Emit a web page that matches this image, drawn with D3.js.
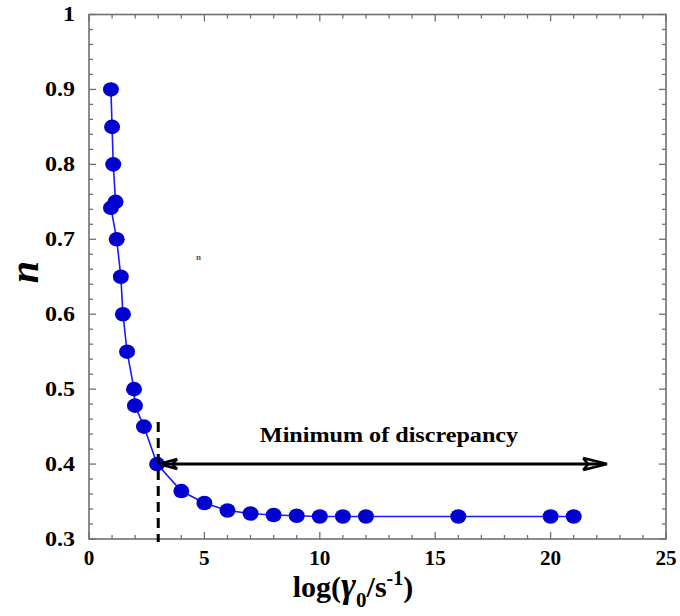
<!DOCTYPE html>
<html><head><meta charset="utf-8">
<script src="https://cdn.jsdelivr.net/npm/d3@7"></script>
<style>body{margin:0;background:#fff}svg{display:block}
svg text{font-family:"Liberation Serif","DejaVu Serif",serif;font-weight:bold}</style>
</head><body>
<svg id="c" width="680" height="616"></svg>
<script>
const xVals = [0.95, 1.0, 1.05, 1.15, 0.95, 1.2, 1.38, 1.47, 1.65, 1.95, 1.99, 2.38, 2.95, 4.0, 5.0, 6.0, 7.0, 8.0, 9.0, 10.0, 11.0, 12.0, 16.0, 20.0, 21.0];
const nVals = [0.90, 0.85, 0.80, 0.75, 0.742, 0.70, 0.65, 0.60, 0.55, 0.50, 0.478, 0.45, 0.40, 0.364, 0.348, 0.338, 0.334, 0.332, 0.331, 0.330, 0.330, 0.330, 0.330, 0.330, 0.330];
const xTicks = [0, 5, 10, 15, 20, 25];
const yTicks = [0.3, 0.4, 0.5, 0.6, 0.7, 0.8, 0.9, 1];
const yTickLabels = ["0.3", "0.4", "0.5", "0.6", "0.7", "0.8", "0.9", "1"];
const markerX = 3;
const markerN = 0.40;
const arrowEndX = 22.45;
const annotation = "Minimum of discrepancy";

const svg = d3.select("#c");
const L = 89, R = 666, T = 14.5, B = 539;
const x = d3.scaleLinear().domain([0, 25]).range([L, R]);
const y = d3.scaleLinear().domain([0.3, 1]).range([B, T]);
const frame = "#707070";

// minor/major ticks (inward) on all sides
const xMinor = d3.range(0, 26, 1);
const yMinor = d3.range(0, 36).map(i => 0.3 + i * 0.02);
const g = svg.append("g").attr("stroke", frame).attr("stroke-width", 1.3);
xMinor.forEach(v => {
  const len = v % 5 === 0 ? 7 : 4;
  g.append("line").attr("x1", x(v)).attr("x2", x(v)).attr("y1", B).attr("y2", B - len);
  g.append("line").attr("x1", x(v)).attr("x2", x(v)).attr("y1", T).attr("y2", T + len);
});
yMinor.forEach(v => {
  const major = Math.abs((v * 10) - Math.round(v * 10)) < 1e-6;
  const len = major ? 7 : 4;
  g.append("line").attr("x1", L).attr("x2", L + len).attr("y1", y(v)).attr("y2", y(v));
  g.append("line").attr("x1", R).attr("x2", R - len).attr("y1", y(v)).attr("y2", y(v));
});
svg.append("rect").attr("x", L).attr("y", T).attr("width", R - L).attr("height", B - T)
  .attr("fill", "none").attr("stroke", frame).attr("stroke-width", 1.6);

// tick labels
svg.append("g").selectAll("text").data(xTicks).join("text")
  .attr("transform", d => `translate(${x(d)},565) scale(1.06,1)`).attr("text-anchor", "middle")
  .attr("font-size", 20).text(d => d);
svg.append("g").selectAll("text").data(yTicks).join("text")
  .attr("transform", d => `translate(75,${y(d) + 6.7}) scale(1.2,1)`).attr("text-anchor", "end")
  .attr("font-size", 20)
  .text((d, i) => yTickLabels[i]);

// axis titles
const xt = svg.append("text").attr("x", 353).attr("y", 597).attr("text-anchor", "middle")
  .attr("font-size", 30);
xt.append("tspan").text("log(");
xt.append("tspan").attr("font-style", "italic").attr("font-size", 36).text("γ");
xt.append("tspan").attr("dy", 10).attr("font-size", 21).text("0");
xt.append("tspan").attr("dy", -10).text("/s");
xt.append("tspan").attr("dy", -12).attr("font-size", 20).text("-1");
xt.append("tspan").attr("dy", 12).text(")");

svg.append("text").attr("transform", "translate(38,272) rotate(-90)")
  .attr("text-anchor", "middle")
  .attr("font-style", "italic").attr("font-size", 40).text("n");

// stray small glyph
svg.append("text").attr("x", 196).attr("y", 260)
  .attr("font-size", 9).attr("fill", "#555").text("n");

// data line and markers
const pts = xVals.map((v, i) => [v, nVals[i]]);
svg.append("path").datum(pts)
  .attr("d", d3.line().x(d => x(d[0])).y(d => y(d[1])))
  .attr("fill", "none").attr("stroke", "#1a1aff").attr("stroke-width", 1.6);
svg.append("g").selectAll("ellipse").data(pts).join("ellipse")
  .attr("cx", d => x(d[0])).attr("cy", d => y(d[1])).attr("rx", 8).attr("ry", 7.3)
  .attr("fill", "#0000d0");

// dashed vertical marker
svg.append("line").attr("x1", x(markerX)).attr("x2", x(markerX))
  .attr("y1", y(0.456)).attr("y2", B + 3)
  .attr("stroke", "#000").attr("stroke-width", 3).attr("stroke-dasharray", "10,6");

// double arrow
const ay = y(markerN);
const ax1 = x(markerX) + 1, ax2 = x(arrowEndX);
svg.append("line").attr("x1", ax1 + 4).attr("x2", ax2 - 4).attr("y1", ay).attr("y2", ay)
  .attr("stroke", "#000").attr("stroke-width", 3);
svg.append("path")
  .attr("d", `M${ax1},${ay} L${ax1 + 18},${ay - 5} M${ax1},${ay} L${ax1 + 18},${ay + 5} M${ax1 + 18},${ay - 5} L${ax1 + 13},${ay} L${ax1 + 18},${ay + 5}`)
  .attr("fill", "none").attr("stroke", "#000").attr("stroke-width", 2.6).attr("stroke-linejoin", "round");
svg.append("path")
  .attr("d", `M${ax2},${ay} L${ax2 - 24},${ay - 6} M${ax2},${ay} L${ax2 - 24},${ay + 6} M${ax2 - 24},${ay - 6} L${ax2 - 19},${ay} L${ax2 - 24},${ay + 6}`)
  .attr("fill", "none").attr("stroke", "#000").attr("stroke-width", 2.6).attr("stroke-linejoin", "round");

svg.append("text").attr("transform", "translate(389,441.5) scale(1.15,1)").attr("text-anchor", "middle")
  .attr("font-size", 21).text(annotation);
</script>
</body></html>
